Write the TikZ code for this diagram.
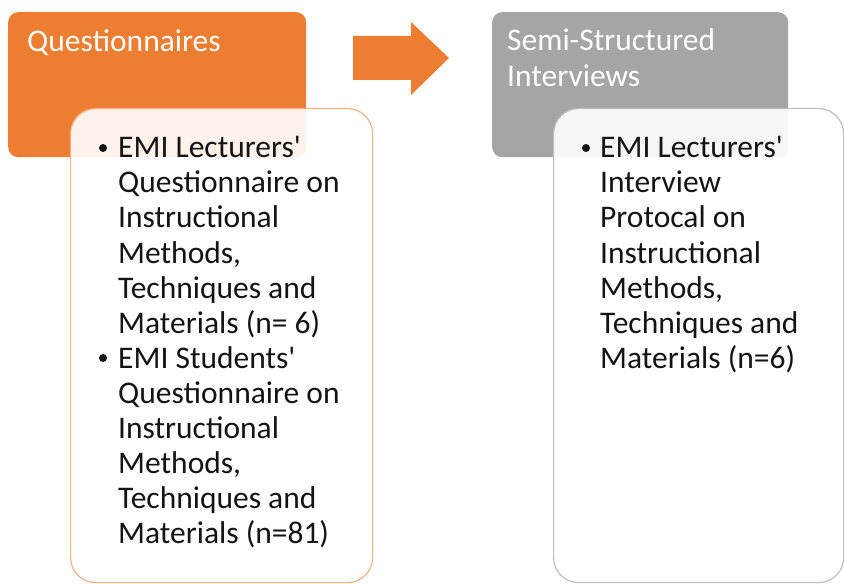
\documentclass[tikz,border=0pt]{standalone}
\usepackage{fontspec}
\setmainfont{Carlito}
\definecolor{accentorange}{HTML}{ED7D31}
\definecolor{lightorange}{HTML}{F4B183}
\definecolor{midgray}{HTML}{A5A5A5}
\definecolor{edgegray}{HTML}{BFBFBF}
\definecolor{bodytext}{HTML}{141414}
\begin{document}
\begin{tikzpicture}[x=1bp,y=-1bp,
  headbox/.style={anchor=north west, inner sep=0pt, rounded corners=10bp,
    minimum width=#1, minimum height=145bp},
  listbox/.style={anchor=north west, inner sep=0pt, rounded corners=25bp,
    minimum width=#1, minimum height=474bp, fill=white, fill opacity=0.9,
    line width=1.2bp},
  % multi-line nodes are placed by the baseline of their last line
  headtext/.style={anchor=base west, inner sep=0pt, text=white, align=left,
    font=\fontsize{31.5bp}{36bp}\selectfont},
  itemtext/.style={anchor=base west, inner sep=0pt, text=bodytext, align=left,
    font=\fontsize{31.5bp}{35bp}\selectfont},
  dot/.style={circle, fill=bodytext, inner sep=0pt, minimum size=8bp}
]
\useasboundingbox (0,0) rectangle (844,584);

% Stage 1: questionnaires
\node[headbox=298bp, fill=accentorange] (qhead) at (8,12) {};
\node[headtext] (qtitle) at (27,52) {Questionnaires};
\node[listbox=302bp, draw=lightorange] (qlist) at (70,108) {};
\node[dot] (qdotA) at (103,148) {};
\node[itemtext] (qitemA) at (118,333) {EMI Lecturers\textquotesingle\\Questionnaire on\\Instructional\\Methods,\\Techniques and\\Materials (n= 6)};
\node[dot] (qdotB) at (103,358) {};
\node[itemtext] (qitemB) at (118,543) {EMI Students\textquotesingle\\Questionnaire on\\Instructional\\Methods,\\Techniques and\\Materials (n=81)};

% Block arrow between the stages
\fill[accentorange] (353,36) -- (411,36) -- (411,22) -- (449,58) -- (411,95)
  -- (411,80) -- (353,80) -- cycle;

% Stage 2: interviews
\node[headbox=296bp, fill=midgray] (ihead) at (492,12) {};
\node[headtext] (ititle) at (507,87) {Semi-Structured\\Interviews};
\node[listbox=290bp, draw=edgegray] (ilist) at (553,108) {};
\node[dot] (idotA) at (586,148) {};
\node[itemtext] (iitemA) at (600,368) {EMI Lecturers\textquotesingle\\Interview\\Protocal on\\Instructional\\Methods,\\Techniques and\\Materials (n=6)};
\end{tikzpicture}
\end{document}
